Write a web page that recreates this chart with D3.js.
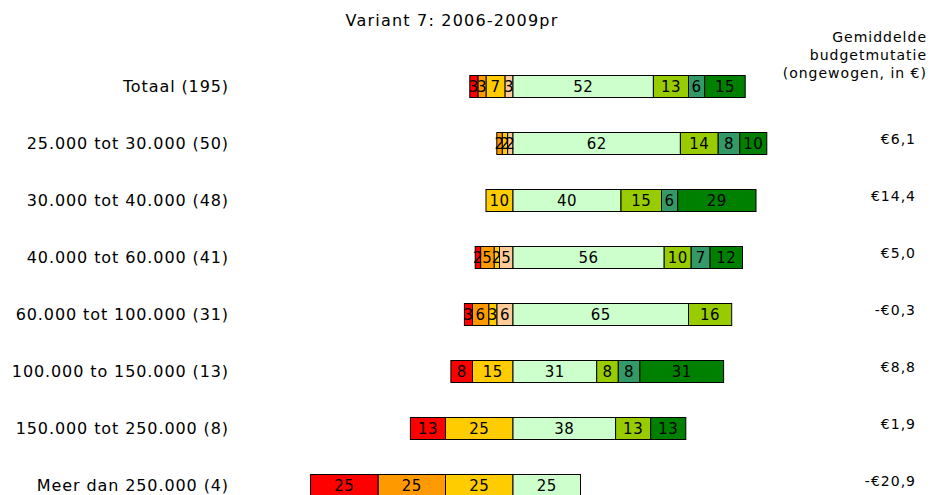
<!DOCTYPE html>
<html>
<head>
<meta charset="utf-8">
<script src="https://cdn.jsdelivr.net/npm/d3@7"></script>
<style>
  body { margin: 0; background: #fff; }
  text { font-family: 'DejaVu Sans', Verdana, sans-serif; fill: #000; }
</style>
</head>
<body>
<svg id="chart"></svg>
<script>
const categories = ['Totaal (195)', '25.000 tot 30.000 (50)', '30.000 tot 40.000 (48)', '40.000 tot 60.000 (41)',
	'60.000 tot 100.000 (31)', '100.000 to 150.000 (13)', '150.000 tot 250.000 (8)', 'Meer dan 250.000 (4)']

// negative side, outermost first: red, orange, yellow, peach
const red    = [3, 0, 0, 2, 3, 8, 13, 25]
const orange = [3, 2, 0, 5, 6, 0, 0, 25]
const yellow = [7, 2, 10, 2, 3, 15, 25, 25]
const peach  = [3, 2, 0, 5, 6, 0, 0, 0]
// positive side, from the center out
const light  = [52, 62, 40, 56, 65, 31, 38, 25]
const yelgrn = [13, 14, 15, 10, 16, 8, 13, 0]
const teal   = [6, 8, 6, 7, 0, 8, 0, 0]
const dark   = [15, 10, 29, 12, 0, 31, 13, 0]

const mutatie = ['', '€6,1', '€14,4', '€5,0', '-€0,3', '€8,8', '€1,9', '-€20,9']

const negSeries = [
	{ vals: peach, color: '#FFCC99' },
	{ vals: yellow, color: '#FFCC00' },
	{ vals: orange, color: '#FF9900' },
	{ vals: red, color: '#FF0000' }
]
const posSeries = [
	{ vals: light, color: '#CCFFCC' },
	{ vals: yelgrn, color: '#99CC00' },
	{ vals: teal, color: '#339966' },
	{ vals: dark, color: '#008000' }
]

const W = 932, H = 495
const svg = d3.select('#chart').attr('width', W).attr('height', H)

const x = d3.scaleLinear().domain([-100, 100]).range([243, 783])
const y = d3.scaleBand().domain(categories).range([58, 514]).paddingInner(0.614).paddingOuter(0.307)

// build segments
const segs = []
categories.forEach((c, i) => {
	let acc = 0
	negSeries.forEach(s => {
		const v = s.vals[i]
		if (v > 0) segs.push({ cat: c, x0: -(acc + v), x1: -acc, v: v, color: s.color })
		acc += v
	})
	acc = 0
	posSeries.forEach(s => {
		const v = s.vals[i]
		if (v > 0) segs.push({ cat: c, x0: acc, x1: acc + v, v: v, color: s.color })
		acc += v
	})
})

svg.append('text')
	.attr('x', 452).attr('y', 26)
	.attr('text-anchor', 'middle')
	.attr('font-size', 16)
	.attr('letter-spacing', 1.2)
	.text('Variant 7: 2006-2009pr')

const g = svg.append('g')

g.selectAll('rect')
	.data(segs)
	.enter()
	.append('rect')
	.attr('x', d => x(d.x0))
	.attr('width', d => x(d.x1) - x(d.x0))
	.attr('y', d => y(d.cat))
	.attr('height', y.bandwidth())
	.style('fill', d => d.color)
	.style('stroke', '#000')
	.style('stroke-width', 1)

g.selectAll('text.val')
	.data(segs)
	.enter()
	.append('text')
	.attr('class', 'val')
	.attr('x', d => (x(d.x0) + x(d.x1)) / 2)
	.attr('y', d => y(d.cat) + y.bandwidth() / 2)
	.attr('dy', '0.36em')
	.attr('text-anchor', 'middle')
	.attr('font-size', 15)
	.attr('letter-spacing', 0.5)
	.text(d => d.v)

svg.selectAll('text.cat')
	.data(categories)
	.enter()
	.append('text')
	.attr('class', 'cat')
	.attr('x', 229)
	.attr('y', d => y(d) + y.bandwidth() / 2)
	.attr('dy', '0.36em')
	.attr('text-anchor', 'end')
	.attr('font-size', 16)
	.attr('letter-spacing', 0.9)
	.text(d => d)

svg.selectAll('text.mut')
	.data(categories)
	.enter()
	.append('text')
	.attr('class', 'mut')
	.attr('x', 916)
	.attr('y', (d, i) => y(d) + y.bandwidth() / 2 - 5)
	.attr('dy', '0.36em')
	.attr('text-anchor', 'end')
	.attr('font-size', 14)
	.attr('letter-spacing', 1)
	.text((d, i) => mutatie[i])

const header = ['Gemiddelde', 'budgetmutatie', '(ongewogen, in €)']
svg.selectAll('text.hdr')
	.data(header)
	.enter()
	.append('text')
	.attr('class', 'hdr')
	.attr('x', 927)
	.attr('y', (d, i) => 42 + i * 18)
	.attr('text-anchor', 'end')
	.attr('font-size', 14)
	.attr('letter-spacing', 1)
	.text(d => d)
</script>
</body>
</html>
